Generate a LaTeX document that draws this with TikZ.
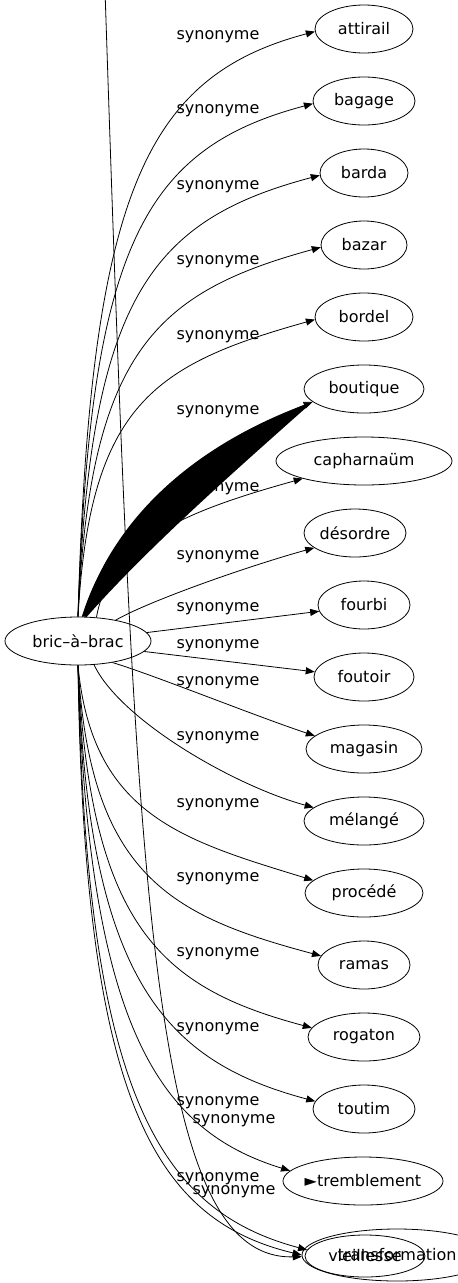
\documentclass[tikz,border=0pt]{standalone}
\usepackage{fontspec}
\setmainfont{DejaVu Sans}
\usetikzlibrary{shapes.geometric, arrows.meta}
\tikzset{
    every node/.style = {font=\fontsize{16}{19}\selectfont, inner sep=0pt},
    word/.style = {ellipse, draw, line width=0.8pt, minimum height=48pt},
    syn/.style = {draw, line width=0.8pt, -{Triangle[length=9pt, width=7pt]}}
}

\begin{document}
\begin{tikzpicture}[x=1pt, y=-1pt]
    \useasboundingbox (0,0) rectangle (458,1283);
    \clip (0,0) rectangle (458,1283);

    \node[word, minimum width=146pt] (b) at (78,641) {bric–à–brac};
    \node[word, minimum width=98pt] (attirail) at (364,29) {attirail};
    \node[word, minimum width=102pt] (bagage) at (364,101) {bagage};
    \node[word, minimum width=88pt] (barda) at (364,173) {barda};
    \node[word, minimum width=86pt] (bazar) at (364,245) {bazar};
    \node[word, minimum width=98pt] (bordel) at (364,317) {bordel};
    \node[word, minimum width=120pt] (boutique) at (364,389) {boutique};
    \node[word, minimum width=176pt] (capharnaum) at (364,461) {capharnaüm};
    \node[word, minimum width=102pt] (desordre) at (355,533) {désordre};
    \node[word, minimum width=92pt] (fourbi) at (364,605) {fourbi};
    \node[word, minimum width=100pt] (foutoir) at (364,677) {foutoir};
    \node[word, minimum width=116pt] (magasin) at (364,749) {magasin};
    \node[word, minimum width=120pt] (melange) at (364,821) {mélangé};
    \node[word, minimum width=118pt] (procede) at (364,893) {procédé};
    \node[word, minimum width=92pt] (ramas) at (364,965) {ramas};
    \node[word, minimum width=112pt] (rogaton) at (364,1037) {rogaton};
    \node[word, minimum width=102pt] (toutim) at (364,1109) {toutim};
    \node[word, minimum width=160pt, inner xsep=-12pt] (tremblement) at (363,1181) {►tremblement};
    \node[word, minimum width=120pt, minimum height=42pt] (vieillesse) at (365,1256) {vieillesse};
    \node[word, minimum width=190pt, minimum height=52pt] (transformation) at (397,1255) {transformation};

    \node (s1) at (218,37) {synonyme};
    \node (s2) at (218,111) {synonyme};
    \node (s3) at (218,187) {synonyme};
    \node (s4) at (218,262) {synonyme};
    \node (s5) at (218,337) {synonyme};
    \node (s6) at (218,412) {synonyme};
    \node (s7) at (218,489) {synonyme};
    \node (s8) at (218,557) {synonyme};
    \node (s9) at (218,609) {synonyme};
    \node (s10) at (218,646) {synonyme};
    \node (s11) at (218,683) {synonyme};
    \node (s12) at (218,738) {synonyme};
    \node (s13) at (218,805) {synonyme};
    \node (s14) at (218,879) {synonyme};
    \node (s15) at (218,954) {synonyme};
    \node (s16) at (218,1029) {synonyme};
    \node (s17) at (218,1103) {synonyme};
    \node (s18) at (234,1121) {synonyme};
    \node (s19) at (218,1179) {synonyme};
    \node (s20) at (234,1192) {synonyme};

    \draw[syn] (b.north) .. controls +(12,-422) and +(-170,45) .. (attirail.183);
    \draw[syn] (b.north) .. controls +(12,-369) and +(-170,45) .. (bagage.183);
    \draw[syn] (b.north) .. controls +(12,-317) and +(-170,45) .. (barda.183);
    \draw[syn] (b.north) .. controls +(12,-265) and +(-165,45) .. (bazar.183);
    \draw[syn] (b.north) .. controls +(12,-213) and +(-160,45) .. (bordel.183);
    \fill (b.80) .. controls (115,510) and (205,440) .. (boutique.194)
        .. controls (245,462) and (150,545) .. (b.70) -- cycle;
    \draw[syn] (b.80) .. controls (115,510) and (220,440) .. (boutique.194);
    \draw[syn] (b.52) .. controls (110,540) and (190,510) .. (capharnaum.196);
    \draw[syn] (b.29) .. controls +(35,-20) and +(-62,17) .. (desordre.200);
    \draw[syn] (b.7) -- (fourbi.188);
    \draw[syn] (b.-9) -- (foutoir.174);
    \draw[syn] (b.-32) .. controls +(40,12) and +(-60,-20) .. (magasin.165);
    \draw[syn] (b.-56) .. controls +(26,55) and +(-80,-22) .. (melange.165);
    \draw[syn] (b.south) .. controls +(14,150) and +(-130,-40) .. (procede.166);
    \draw[syn] (b.south) .. controls +(12,210) and +(-150,-40) .. (ramas.168);
    \draw[syn] (b.south) .. controls +(12,262) and +(-150,-40) .. (rogaton.170);
    \draw[syn] (b.south) .. controls +(10,315) and +(-150,-40) .. (toutim.171);
    \draw[syn] (b.south) .. controls +(10,364) and +(-130,-40) .. (tremblement.172);
    \draw[syn] (b.south) .. controls +(8,425) and +(-150,-40) .. (vieillesse.174);
    \draw[syn] (b.south) .. controls +(6,430) and +(-150,-36) .. (transformation.180);

    \coordinate (top) at (104,-40);
    \draw[syn] (top) .. controls (135,900) and (150,1260) .. (transformation.181);
\end{tikzpicture}
\end{document}
